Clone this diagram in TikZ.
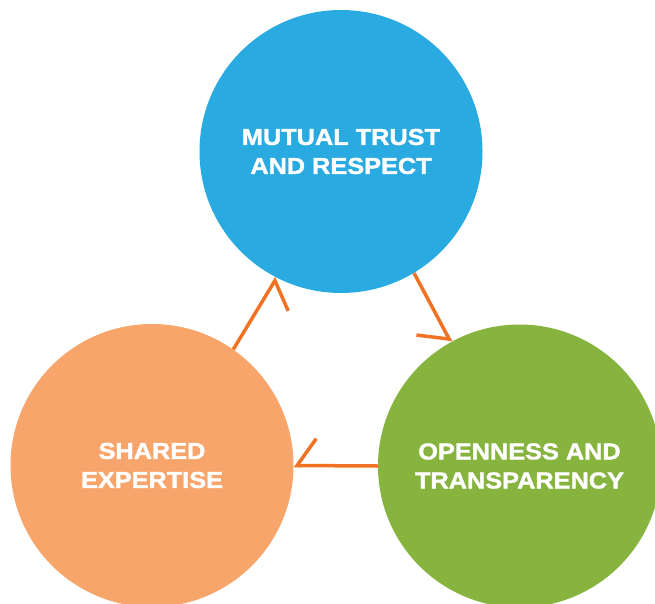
\documentclass[tikz,border=0pt]{standalone}
\usepackage{fontspec}
\newfontfamily\valuefont[FakeStretch=1.1,FakeBold=1.5]{Liberation Sans Bold}
\usetikzlibrary{shapes,arrows.meta,positioning,calc}
\definecolor{trustblue}{RGB}{41,170,225}
\definecolor{sharedorange}{RGB}{248,165,108}
\definecolor{opengreen}{RGB}{135,180,62}
\definecolor{linkorange}{RGB}{240,115,35}

\begin{document}
\begin{tikzpicture}[x=1pt,y=-1pt,
  value/.style={circle,minimum size=283pt,inner sep=0pt,text=white,align=center,
    font=\valuefont\fontsize{23}{29}\selectfont},
  link/.style={draw=linkorange,line width=3.5pt,
    -{Straight Barb[right,length=19pt,width=54pt,line cap=butt,line join=miter]}}]
\useasboundingbox (0,0) rectangle (655,604);
\node[value,fill=trustblue] (trust) at (341,151.5) {MUTUAL TRUST\\AND RESPECT};
\node[value,fill=sharedorange] (expertise) at (152,465.5) {SHARED\\EXPERTISE};
\node[value,fill=opengreen] (openness) at (519.5,466) {OPENNESS AND\\TRANSPARENCY};
\draw[link] (expertise.55) -- (trust.243);
\draw[link] (trust.301) -- (openness.119);
\draw[link] (openness.180) -- (expertise.0);
\end{tikzpicture}
\end{document}
